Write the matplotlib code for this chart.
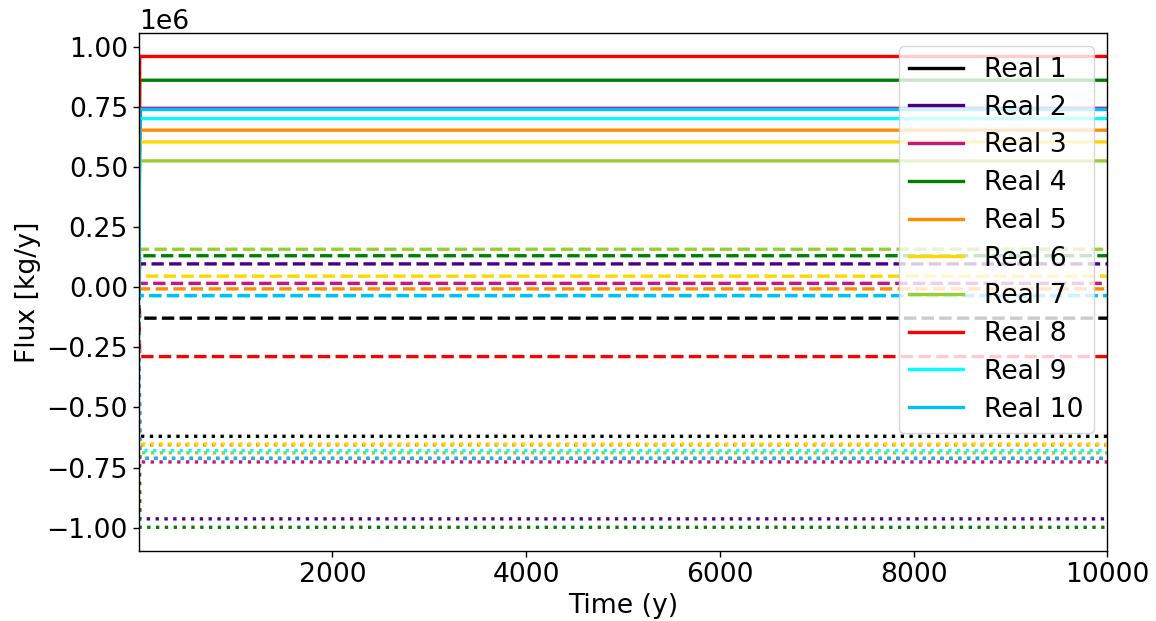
import matplotlib
matplotlib.use("Agg")
import matplotlib.pyplot as plt
import numpy as np

labels = [f"Real {i}" for i in range(1, 11)]
colors = ["black", "indigo", "mediumvioletred", "green", "darkorange",
          "gold", "yellowgreen", "red", "cyan", "deepskyblue"]

# time points: start at zero flux, then constant
time = [0, 10, 10000]

# values in units of 1e6 kg/y
solid_vals = [0.745, 0.745, 0.745, 0.863, 0.655, 0.606, 0.527, 0.962, 0.703, 0.741]
dashed_vals = [-0.128, 0.098, 0.017, 0.132, -0.006, 0.047, 0.159, -0.288, -0.034, -0.034]
dotted_vals = [-0.620, -0.964, -0.727, -0.999, -0.656, -0.652, -0.689, -0.712, -0.680, -0.712]

FS = 19.2

fig = plt.figure(figsize=(11.56, 6.21), dpi=100)
ax = fig.add_axes([0.120, 0.113, 0.838, 0.834])

for i in range(10):
    c = colors[i]
    ax.plot(time, [0, solid_vals[i] * 1e6, solid_vals[i] * 1e6], color=c, lw=2.4, ls="-", label=labels[i])
    ax.plot(time, [0, dashed_vals[i] * 1e6, dashed_vals[i] * 1e6], color=c, lw=2.4, ls="--")
    ax.plot(time, [0, dotted_vals[i] * 1e6, dotted_vals[i] * 1e6], color=c, lw=2.4, ls=":")

ax.set_xlim(0, 10000)
ax.set_xticks([2000, 4000, 6000, 8000, 10000])
ax.set_xlabel("Time (y)", fontsize=FS)
ax.set_ylabel("Flux [kg/y]", fontsize=FS)
ax.tick_params(labelsize=FS, length=4.2, width=1.0)
for s in ax.spines.values():
    s.set_linewidth(1.0)
ax.yaxis.get_offset_text().set_fontsize(FS)
ax.legend(loc="upper right", fontsize=FS, labelspacing=0.44)

fig.savefig("out.png", dpi=100)
